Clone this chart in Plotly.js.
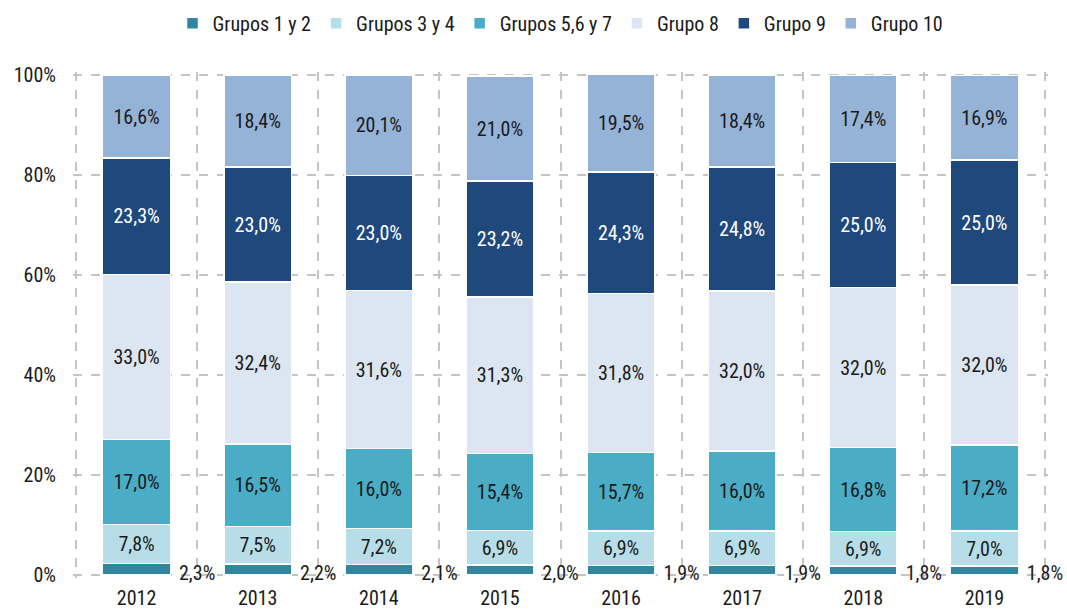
<!DOCTYPE html>
<html><head><meta charset="utf-8">
<script src="https://cdn.plot.ly/plotly-3.0.1.min.js"></script>
<style>html,body{margin:0;padding:0;background:#fff}#c{width:1067px;height:612px}</style>
</head><body><div id="c"></div>
<script>
var years = ["2012","2013","2014","2015","2016","2017","2018","2019"];
var g12 = [2.3,2.2,2.1,2.0,1.9,1.9,1.8,1.8];
var g34 = [7.8,7.5,7.2,6.9,6.9,6.9,6.9,7.0];
var g567 = [17.0,16.5,16.0,15.4,15.7,16.0,16.8,17.2];
var g8 = [33.0,32.4,31.6,31.3,31.8,32.0,32.0,32.0];
var g9 = [23.3,23.0,23.0,23.2,24.3,24.8,25.0,25.0];
var g10 = [16.6,18.4,20.1,21.0,19.5,18.4,17.4,16.9];
var names = ["Grupos 1 y 2","Grupos 3 y 4","Grupos 5,6 y 7","Grupo 8","Grupo 9","Grupo 10"];
var colors = ["#31859C","#B7DEE8","#4BACC6","#DCE6F2","#1F497D","#95B3D7"];
var series = [g12,g34,g567,g8,g9,g10];

var FONT = "'Liberation Sans Narrow', 'Roboto Condensed', Roboto, sans-serif";
var idx = years.map(function(_,i){return i;});
function fmt(v){return v.toFixed(1).replace('.',',')+'%';}

var traces = series.map(function(s,k){
  return {
    type:'bar', name:names[k], x:idx, y:s,
    marker:{color:colors[k], line:{color:'#ffffff', width:1.5}},
    width:0.56,
    text: k===0 ? s.map(function(){return '';}) : s.map(fmt),
    textposition: k===0 ? 'none' : 'inside',
    insidetextanchor:'middle', constraintext:'none',
    textfont:{family:FONT, size:20, color: k===4 ? '#ffffff' : '#1a1a1a'},
    hoverinfo:'skip'
  };
});
traces.push({
  type:'scatter', mode:'text', x:idx.map(function(i){return i+0.5;}), y:g12.map(function(){return 0;}),
  text:g12.map(fmt), textposition:'middle center',
  textfont:{family:FONT, size:20, color:'#1a1a1a'},
  showlegend:false, cliponaxis:false, hoverinfo:'skip'
});
traces.push({type:'scatter', mode:'markers', x:[-0.5,7.5], y:[0,0], xaxis:'x2', marker:{opacity:0}, showlegend:false, hoverinfo:'skip'});

var layout = {
  width:1067, height:612,
  margin:{l:73, r:19, t:72, b:34, autoexpand:false},
  barmode:'stack',
  paper_bgcolor:'#fff', plot_bgcolor:'#fff',
  font:{family:FONT, size:19, color:'#1a1a1a'},
  showlegend:true,
  legend:{orientation:'h', traceorder:'normal', x:0.5, xanchor:'center', yref:'container', y:0.962, yanchor:'middle',
          font:{family:FONT, size:20, color:'#1a1a1a'}, itemwidth:30},
  xaxis:{range:[-0.525,7.525], tickmode:'array', tickvals:idx, ticktext:years, showgrid:false,
         zeroline:false, showline:false, ticks:'', ticklabelstandoff:6, tickfont:{family:FONT, size:20, color:'#1a1a1a'}},
  xaxis2:{range:[-0.525,7.525], overlaying:'x', tickmode:'array', tickvals:[-0.5,0.5,1.5,2.5,3.5,4.5,5.5,6.5,7.5],
          showticklabels:false, showgrid:true, gridcolor:'#c4c4c4', griddash:'dash', gridwidth:2,
          zeroline:false, showline:false, ticks:'', layer:'below traces'},
  yaxis:{range:[-0.6,100.6], tickmode:'array', tickvals:[0,20,40,60,80,100], ticktext:['0%','20%','40%','60%','80%','100%'],
         showgrid:true, gridcolor:'#c4c4c4', griddash:'dash', gridwidth:2, zeroline:false, showline:false,
         ticks:'', ticklabelstandoff:16, tickfont:{family:FONT, size:20, color:'#1a1a1a'}, layer:'below traces'}
};
Plotly.newPlot('c', traces, layout, {displayModeBar:false, staticPlot:true});
</script></body></html>
